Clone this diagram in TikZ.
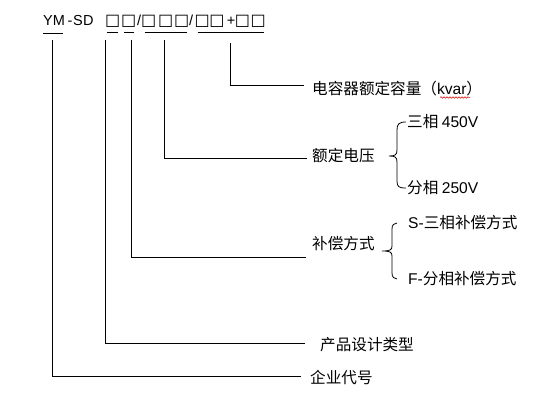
\documentclass[tikz,border=0pt]{standalone}
\usepackage{fontspec}
\setmainfont{Liberation Sans}
\newfontfamily\cjk{Noto Sans CJK SC}
\newfontfamily\lat{Liberation Sans}
\newfontfamily\dvs{DejaVu Sans}
\usetikzlibrary{decorations.pathmorphing}
\newcommand{\sqg}{\makebox[0pt][c]{\dvs\fontsize{16}{18}\selectfont □}}
\newcommand{\chg}[1]{\makebox[0pt][c]{#1}}
\begin{document}
\begin{tikzpicture}[x=1pt,y=-1pt,
  ln/.style={line width=0.8pt,black},
  lbl/.style={anchor=west,inner sep=0pt,font=\cjk\fontsize{15.6}{18}\selectfont},
  code/.style={anchor=base west,inner sep=0pt,font=\lat\fontsize{14.5}{16}\selectfont},
  ul/.style={line width=0.8pt,black}]
\useasboundingbox (0,0) rectangle (555,401);
% top code
\node[code] (ym) at (43,26) {YM};
\node[code] (sd) at (67.5,26) {-\kern0.5pt S\kern0.5pt D};
\node[code] (sq) at (112.5,26) {\sqg\kern16pt\sqg\kern10.5pt\chg{/}\kern9.5pt\sqg\kern17pt\sqg\kern16pt\sqg\kern9.5pt\chg{/}\kern11pt\sqg\kern14.7pt\sqg\kern14.3pt\chg{+}\kern11.3pt\sqg\kern15.7pt\sqg};
\draw[ul] (43,33) -- (63,33);
\draw[ul] (107,32) -- (118,32);
\draw[ul] (124,32) -- (133.5,32);
\draw[ul] (144.5,32) -- (187,32);
\draw[ul] (197.5,32) -- (264,32);
% labels
\node[lbl] (cap) at (312,89) {电容器额定容量（{\lat kvar}）};
\node[lbl] (volt) at (312,156) {额定电压};
\node[lbl] (v3) at (407,122) {三相 {\lat 450V}};
\node[lbl] (v1) at (407,188) {分相 {\lat 250V}};
\node[lbl] (comp) at (312,244) {补偿方式};
\node[lbl] (cs) at (408,223) {{\lat S-}三相补偿方式};
\node[lbl] (cf) at (408,279) {{\lat F-}分相补偿方式};
\node[lbl] (type) at (320,345) {产品设计类型};
\node[lbl] (corp) at (310,378) {企业代号};
% spell-check squiggle under kvar
\draw[red!85!black,line width=0.5pt,decorate,decoration={snake,amplitude=0.8pt,segment length=3pt}] (440,97.5) -- (470,97.5);
% connectors
\coordinate (t1) at (52,40);   \coordinate (e1) at (301,376);
\coordinate (t2) at (105,40);  \coordinate (e2) at (305,343);
\coordinate (t3) at (131,40);  \coordinate (e3) at (306,257);
\coordinate (t4) at (164.5,40);\coordinate (e4) at (307,158);
\coordinate (t5) at (230,43);  \coordinate (e5) at (304,85);
\draw[ln] (t1) |- (e1);
\draw[ln] (t2) |- (e2);
\draw[ln] (t3) |- (e3);
\draw[ln] (t4) |- (e4);
\draw[ln] (t5) |- (e5);
% braces
\draw[ln] (406,122) .. controls (399,122) and (397,124) .. (397,130) -- (397,150)
  .. controls (397,155) and (395,156) .. (389,156)
  .. controls (395,156) and (397,157) .. (397,162) -- (397,181)
  .. controls (397,187) and (399,188) .. (406,188);
\draw[ln] (397,223) .. controls (394,223) and (392,225) .. (392,229) -- (392,246)
  .. controls (392,250) and (390,251) .. (382,251)
  .. controls (390,251) and (392,252) .. (392,256) -- (392,273)
  .. controls (392,277) and (394,279) .. (397,279);
\end{tikzpicture}
\end{document}
